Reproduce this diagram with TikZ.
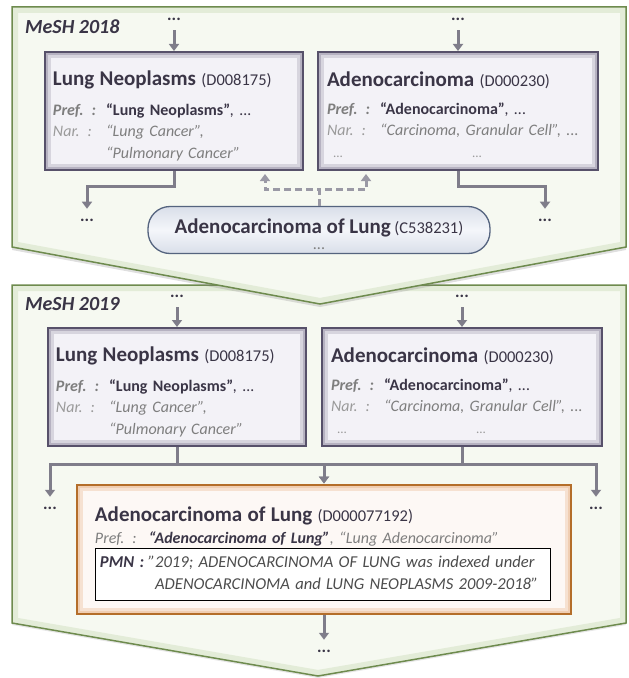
\documentclass[tikz,border=0pt]{standalone}
\usepackage{fontspec}
\setmainfont{Carlito}
\usepackage{xcolor}
\usepackage{tikz}
\usetikzlibrary{arrows.meta,positioning,calc,shadows}

\definecolor{panelfill}{HTML}{F6F9F1}
\definecolor{paneledge}{HTML}{6E8B4E}
\definecolor{panelglow}{HTML}{E3ECD8}
\definecolor{boxfill}{HTML}{F3F2F7}
\definecolor{boxedge}{HTML}{57516A}
\definecolor{boxglow}{HTML}{857F97}
\definecolor{conceptfill}{HTML}{F4F6FA}
\definecolor{conceptshade}{HTML}{D9DEE9}
\definecolor{conceptedge}{HTML}{55647F}
\definecolor{newfill}{HTML}{FDF8F5}
\definecolor{newedge}{HTML}{B46E2A}
\definecolor{newglow}{HTML}{E9B88E}
\definecolor{textdark}{HTML}{3A3546}
\definecolor{textgray}{HTML}{7E7E7E}
\definecolor{textlight}{HTML}{9A9A9A}
\definecolor{arrowgray}{HTML}{7F7D8A}
\definecolor{dashgray}{HTML}{9A99A5}

\newcommand{\termtitle}[1]{{\fontsize{21bp}{24bp}\selectfont\bfseries #1}}
\newcommand{\termid}[1]{{\fontsize{16.5bp}{19bp}\selectfont #1}}
\newcommand{\prefkey}[1]{{\color{textgray}\bfseries\itshape #1}}
\newcommand{\prefkeyplain}[1]{{\color{textgray}\itshape #1}}
\newcommand{\narkey}[1]{{\color{textlight}\itshape #1}}
\newcommand{\prefval}[1]{{\bfseries #1}}
\newcommand{\narval}[1]{{\color{textgray}\itshape #1}}
\newcommand{\faint}[1]{{\color{textlight}\fontsize{13bp}{15bp}\selectfont #1}}
\newcommand{\lift}[1]{\rule{0pt}{#1}}

\tikzset{
    panel/.style={fill=panelfill,draw=paneledge,line width=1.5bp,line join=miter},
    panel glow/.style={draw=panelglow,line width=12bp},
    panel label/.style={font=\fontsize{20bp}{24bp}\selectfont\bfseries\itshape,text=textdark,inner sep=0pt},
    term box/.style={rectangle,draw=boxedge,line width=2bp,fill=boxfill,text=textdark,
        inner xsep=8bp,align=left,
        path picture={
            \draw[boxglow,line width=12bp,opacity=.25] (path picture bounding box.south west) rectangle (path picture bounding box.north east);
            \draw[boxglow,line width=6bp,opacity=.4] (path picture bounding box.south west) rectangle (path picture bounding box.north east);}},
    concept box/.style={rectangle,rounded corners=22bp,draw=conceptedge,line width=1.3bp,
        top color=conceptshade,bottom color=conceptshade,middle color=conceptfill,
        text=textdark,align=center,inner sep=2bp},
    new box/.style={rectangle,draw=newedge,line width=2bp,fill=newfill,text=textdark,
        inner xsep=18bp,align=left,
        path picture={
            \draw[newglow,line width=12bp,opacity=.35] (path picture bounding box.south west) rectangle (path picture bounding box.north east);
            \draw[newglow,line width=6bp,opacity=.45] (path picture bounding box.south west) rectangle (path picture bounding box.north east);}},
    dots/.style={font=\fontsize{17bp}{20bp}\selectfont\bfseries,text=textdark,inner sep=0pt,outer sep=10bp},
    flow/.style={-{Triangle[width=10bp,length=7bp]},line width=3bp,arrowgray},
    dash flow/.style={-{Triangle[width=10bp,length=7bp]},line width=3bp,dashgray,dash pattern=on 7bp off 4bp},
}
\tikzstyle{every node}=[font=\fontsize{16bp}{21.5bp}\selectfont]

\begin{document}
\begin{tikzpicture}[x=1bp,y=-1bp]
    \useasboundingbox (0,0) rectangle (629,678);

    % MeSH 2019 panel
    \path (12,285) coordinate (b1) (626,285) coordinate (b2) (626,623) coordinate (b3)
          (318,676) coordinate (b4) (12,623) coordinate (b5);
    \draw[panel,drop shadow={opacity=.2,shadow xshift=0bp,shadow yshift=-2bp},
          path picture={\draw[panel glow] (b1) -- (b2) -- (b3) -- (b4) -- (b5) -- cycle;}]
        (b1) -- (b2) -- (b3) -- (b4) -- (b5) -- cycle;

    % MeSH 2018 panel, on top
    \path (12,7) coordinate (a1) (626,7) coordinate (a2) (626,247) coordinate (a3)
          (320,304) coordinate (a4) (12,247) coordinate (a5);
    \draw[panel,drop shadow={opacity=.25,shadow xshift=0bp,shadow yshift=-3bp},
          path picture={\draw[panel glow] (a1) -- (a2) -- (a3) -- (a4) -- (a5) -- cycle;}]
        (a1) -- (a2) -- (a3) -- (a4) -- (a5) -- cycle;

    \node[panel label,anchor=west] (meshA) at (25,27) {MeSH 2018};
    \node[panel label,anchor=west] (meshB) at (25,304) {MeSH 2019};

    % 2018 descriptors
    \node[term box,minimum width=258bp,minimum height=118bp,text width=242bp] (lungA) at (174,111) {%
        \lift{28bp}\termtitle{Lung Neoplasms} \termid{(D008175)}\\[10bp]
        \begin{tabular}{@{}l@{\hspace{10bp}}l@{}}
            \prefkey{Pref. :} & \prefval{“Lung Neoplasms”}\textit{, ...}\\
            \narkey{Nar. :} & \narval{“Lung Cancer”,}\\
             & \narval{“Pulmonary Cancer”}
        \end{tabular}};
    \node[term box,minimum width=280bp,minimum height=118bp,text width=262bp] (adenoA) at (458,111) {%
        \lift{28bp}\termtitle{Adenocarcinoma} \termid{(D000230)}\\[10bp]
        \begin{tabular}{@{}l@{\hspace{10bp}}l@{}}
            \prefkey{Pref. :} & \prefval{“Adenocarcinoma”}\textit{, ...}\\
            \narkey{Nar. :} & \narval{“Carcinoma, Granular Cell”, ...}\\
            \hspace{6bp}\faint{...} & \hspace{92bp}\faint{...}
        \end{tabular}};
    \node[concept box,minimum width=342bp,minimum height=47bp] (aolC) at (319,230) {%
        \lift{23bp}\termtitle{Adenocarcinoma of Lung} \termid{(C538231)}\\[-5bp]{\color{textgray}...}};

    \node[dots] (topA) at (174,19) {...};
    \node[dots] (topB) at (458,19) {...};
    \node[dots] (outA) at (87,220) {...};
    \node[dots] (outB) at (545,220) {...};

    \draw[flow] (topA) -- (lungA);
    \draw[flow] (topB) -- (adenoA);
    \draw[flow] (lungA.south) -- ++(0,15) -| (outA);
    \draw[flow] (adenoA.south) -- ++(0,15) -| (outB);
    \draw[dash flow] (aolC.north) -- ++(0,-16) -| ([xshift=-39bp,yshift=-3bp]lungA.south east);
    \draw[dash flow] (aolC.north) -- ++(0,-16) -| ([xshift=49bp,yshift=-3bp]adenoA.south west);

    % 2019 descriptors
    \node[term box,minimum width=258bp,minimum height=118bp,text width=242bp] (lungB) at (177,387) {%
        \lift{28bp}\termtitle{Lung Neoplasms} \termid{(D008175)}\\[10bp]
        \begin{tabular}{@{}l@{\hspace{10bp}}l@{}}
            \prefkey{Pref. :} & \prefval{“Lung Neoplasms”}\textit{, ...}\\
            \narkey{Nar. :} & \narval{“Lung Cancer”,}\\
             & \narval{“Pulmonary Cancer”}
        \end{tabular}};
    \node[term box,minimum width=280bp,minimum height=118bp,text width=262bp] (adenoB) at (462,387) {%
        \lift{28bp}\termtitle{Adenocarcinoma} \termid{(D000230)}\\[10bp]
        \begin{tabular}{@{}l@{\hspace{10bp}}l@{}}
            \prefkey{Pref. :} & \prefval{“Adenocarcinoma”}\textit{, ...}\\
            \narkey{Nar. :} & \narval{“Carcinoma, Granular Cell”, ...}\\
            \hspace{6bp}\faint{...} & \hspace{92bp}\faint{...}
        \end{tabular}};
    \node[new box,minimum width=494bp,minimum height=129bp,text width=458bp] (aolD) at (324,549) {%
        \lift{24bp}\termtitle{Adenocarcinoma of Lung} \termid{(D000077192)}\\[1bp]
        \prefkeyplain{Pref. :}\hspace{12bp}\textbf{\textit{“Adenocarcinoma of Lung”}}\narval{, “Lung Adenocarcinoma”}\\[0bp]
        \setlength{\fboxsep}{4bp}\setlength{\fboxrule}{1bp}%
        \fcolorbox{black}{white}{\parbox{446bp}{\fontsize{16.6bp}{21.5bp}\selectfont
            \begin{tabular}{@{}l@{\hspace{4bp}}l@{}}
                \textbf{\textit{PMN :}} & \narval{\color{black!70}"2019; ADENOCARCINOMA OF LUNG was indexed under}\\
                 & \narval{\color{black!70}\phantom{"}ADENOCARCINOMA and LUNG NEOPLASMS 2009-2018"}
            \end{tabular}}}};

    \node[dots] (topC) at (177,296) {...};
    \node[dots] (topD) at (462,296) {...};
    \node[dots] (outC) at (50,508) {...};
    \node[dots] (outD) at (596,508) {...};
    \node[dots] (outE) at (324,651) {...};

    \draw[flow] (topC) -- (lungB);
    \draw[flow] (topD) -- (adenoB);
    \draw[flow] (lungB.south) -- ++(0,17) -| (outC);
    \draw[flow] (lungB.south) -- ++(0,17) -| (aolD);
    \draw[flow] (adenoB.south) -- ++(0,17) -| (outD);
    \draw[flow] (adenoB.south) -- ++(0,17) -| (aolD);
    \draw[flow] (aolD) -- (outE);
\end{tikzpicture}
\end{document}
